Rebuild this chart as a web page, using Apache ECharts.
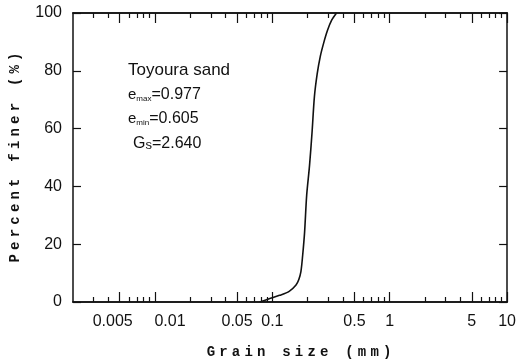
<!DOCTYPE html>
<html>
<head>
<meta charset="utf-8">
<script src="https://cdn.jsdelivr.net/npm/echarts@6/dist/echarts.min.js"></script>
<style>
  html, body { margin: 0; padding: 0; background: #fff; }
  #chart { width: 519px; height: 364px; }
</style>
</head>
<body>
<div id="chart"></div>
<script>
// grading curve of Toyoura sand
const grainSize = [0.078, 0.094, 0.115, 0.139, 0.159, 0.168, 0.175, 0.181, 0.188, 0.196, 0.207, 0.218, 0.228, 0.241, 0.256, 0.273, 0.295, 0.320, 0.352];
const percentFiner = [0, 1.1, 2.3, 3.7, 5.9, 7.8, 10.5, 16, 24, 37, 47, 59, 71, 79, 85, 89.5, 94, 97.5, 100];

const xLabels = [0.005, 0.01, 0.05, 0.1, 0.5, 1, 5, 10];
const xMajorTicks = [0.005, 0.01, 0.05, 0.1, 0.5, 1, 5, 10];
const xMinorTicks = [0.003, 0.004, 0.006, 0.007, 0.008, 0.009,
  0.02, 0.03, 0.04, 0.06, 0.07, 0.08, 0.09,
  0.2, 0.3, 0.4, 0.6, 0.7, 0.8, 0.9,
  2, 3, 4, 6, 7, 8, 9];
const xMin = 0.002, xMax = 10;
const yMin = 0, yMax = 100, yStep = 20;

const lg = v => Math.log10(v);
const ink = '#111';
const sans = 'Liberation Sans';
const mono = 'Liberation Mono';

// typewriter style axis titles: every letter padded apart
function spaced(str) {
  return str.split('').map(c => '{c|' + c + '}').join('');
}
const titleRich = { c: { fontFamily: mono, fontWeight: 'bold', fontSize: 14, color: ink, padding: [0, 2.1, 0, 2.1] } };

// the two crowded labels at the left sit pushed apart, as in the original
function xLabelText(v) {
  const s = String(+Math.pow(10, v).toPrecision(3));
  if (s === '0.005') return '{l|' + s + '}';
  if (s === '0.01') return '{r|' + s + '}';
  return '{n|' + s + '}';
}
const labelFont = { fontFamily: sans, fontSize: 16, color: ink };

function xAxisDef(pos, ticks, len, withLabels) {
  return {
    type: 'value', position: pos, min: lg(xMin), max: lg(xMax),
    axisLine: { show: true, onZero: false, lineStyle: { color: ink, width: 1.5 } },
    axisTick: { show: true, inside: true, length: len, customValues: ticks.map(lg),
      lineStyle: { color: ink, width: 1.2 } },
    axisLabel: withLabels ? {
      show: true, customValues: xLabels.map(lg), margin: 12,
      showMinLabel: true, showMaxLabel: true, hideOverlap: false,
      formatter: xLabelText,
      rich: {
        n: labelFont,
        l: Object.assign({ padding: [0, 14, 0, 0] }, labelFont),
        r: Object.assign({ padding: [0, 0, 0, 30] }, labelFont)
      }
    } : { show: false },
    splitLine: { show: false }
  };
}

function yAxisDef(pos, withLabels) {
  return {
    type: 'value', position: pos, min: yMin, max: yMax, interval: yStep,
    axisLine: { show: true, onZero: false, lineStyle: { color: ink, width: 1.5 } },
    axisTick: { show: true, inside: true, length: 8, lineStyle: { color: ink, width: 1.2 } },
    axisLabel: withLabels ? { color: ink, fontFamily: sans, fontSize: 16, margin: 11 } : { show: false },
    splitLine: { show: false }
  };
}

const chart = echarts.init(document.getElementById('chart'));

const option = {
  animation: false,
  backgroundColor: '#fff',
  grid: { left: 73, right: 9, top: 13, bottom: 60 },
  xAxis: [
    Object.assign(xAxisDef('bottom', xMinorTicks, 5, true), {
      name: spaced('Grain size (mm)'), nameLocation: 'middle', nameGap: 43,
      nameTextStyle: { color: ink, padding: [0, 0, 0, 18], rich: titleRich }
    }),
    xAxisDef('bottom', xMajorTicks, 10, false),
    xAxisDef('top', xMinorTicks, 5, false),
    xAxisDef('top', xMajorTicks, 10, false)
  ],
  yAxis: [
    Object.assign(yAxisDef('left', true), {
      name: spaced('Percent finer (%)'), nameLocation: 'middle', nameGap: 51,
      nameTextStyle: { color: ink, rich: titleRich }
    }),
    yAxisDef('right', false)
  ],
  graphic: [
    {
      type: 'text', left: 128, top: 62,
      style: { text: 'Toyoura sand', fill: ink, font: '17px "Liberation Sans"' }
    },
    {
      type: 'text', left: 128, top: 87,
      style: {
        text: '{e|e}{s|max}{v|=0.977}', fill: ink,
        rich: {
          e: { fontFamily: sans, fontSize: 15 },
          s: { fontFamily: sans, fontSize: 8, verticalAlign: 'bottom', padding: [6, 0, 0, 0] },
          v: { fontFamily: sans, fontSize: 16 }
        }
      }
    },
    {
      type: 'text', left: 128, top: 111,
      style: {
        text: '{e|e}{s|min}{v|=0.605}', fill: ink,
        rich: {
          e: { fontFamily: sans, fontSize: 15 },
          s: { fontFamily: sans, fontSize: 8, verticalAlign: 'bottom', padding: [6, 0, 0, 0] },
          v: { fontFamily: sans, fontSize: 16 }
        }
      }
    },
    {
      type: 'text', left: 133, top: 136,
      style: {
        text: '{g|G}{s|s}{v|=2.640}', fill: ink,
        rich: {
          g: { fontFamily: sans, fontSize: 16 },
          s: { fontFamily: sans, fontSize: 13, padding: [2, 0, 0, 0] },
          v: { fontFamily: sans, fontSize: 16 }
        }
      }
    }
  ],
  series: [
    {
      type: 'line',
      xAxisIndex: 0, yAxisIndex: 0,
      data: grainSize.map((d, i) => [lg(d), percentFiner[i]]),
      showSymbol: false,
      smooth: 0.3,
      lineStyle: { color: ink, width: 1.6 }
    }
  ]
};

chart.setOption(option);
</script>
</body>
</html>
